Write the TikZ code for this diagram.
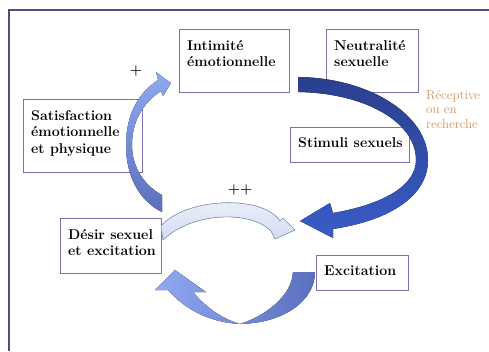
\documentclass[tikz,border=0pt]{standalone}
\usepackage{tikz}
\usetikzlibrary{positioning}
\definecolor{cycleFrame}{HTML}{4E4E76}
\definecolor{cycleBox}{HTML}{7D70B0}
\definecolor{cycleNavy}{HTML}{2A3F8F}
\definecolor{cycleBlue}{HTML}{4A6AD0}
\definecolor{cycleRoyal}{HTML}{3A5BC8}
\definecolor{cycleSky}{HTML}{90A9F0}
\definecolor{cycleSlate}{HTML}{5B6FBE}
\definecolor{cycleDeep}{HTML}{4A5FB5}
\definecolor{cyclePale}{HTML}{D3DDF2}
\definecolor{cycleEdge}{HTML}{8897B8}
\definecolor{cycleOrange}{HTML}{D4935F}
\tikzset{
  stagebox/.style={
    rectangle,
    draw=cycleBox,
    fill=white,
    line width=0.8pt,
    anchor=north west,
    inner sep=0pt
  },
  stagetext/.style={
    font=\fontsize{14.2}{16.5}\selectfont\bfseries,
    align=left,
    inner sep=0pt
  },
  signtext/.style={
    font=\fontsize{14}{16}\selectfont\bfseries,
    inner sep=0pt
  },
  notetext/.style={
    font=\fontsize{13}{14.5}\selectfont,
    text=cycleOrange,
    align=left,
    inner sep=0pt,
    anchor=north west
  },
  frame/.style={
    draw=cycleFrame,
    line width=1.5pt
  }
}

\begin{document}
\begin{tikzpicture}[x=1pt,y=-1pt]
  \useasboundingbox (0,0) rectangle (489,351);
  \draw[frame] (9,351) -- (9,10) -- (489,10);
  % boxes
  \node[stagebox,minimum width=110pt,minimum height=63pt] (intimite) at (179,29) {};
  \node[stagebox,minimum width=92pt,minimum height=63pt] (neutralite) at (326,29) {};
  \node[stagebox,minimum width=119pt,minimum height=73pt] (satisfaction) at (23,99) {};
  \node[stagebox,minimum width=119pt,minimum height=35pt] (stimuli) at (290,127) {};
  \node[stagebox,minimum width=101pt,minimum height=55pt] (desir) at (60,218) {};
  \node[stagebox,minimum width=92pt,minimum height=35pt] (excitation) at (316,255) {};
  \node[stagetext,below right=11pt and 8pt of intimite.north west] (intimiteT) {Intimité\\émotionnelle};
  \node[stagetext,below right=11pt and 8pt of neutralite.north west] (neutraliteT) {Neutralité\\sexuelle};
  \node[stagetext,below right=11pt and 8pt of satisfaction.north west] (satisfactionT) {Satisfaction\\émotionnelle\\et physique};
  \node[stagetext,below right=10pt and 8pt of stimuli.north west] (stimuliT) {Stimuli sexuels};
  \node[stagetext,below right=11pt and 8pt of desir.north west] (desirT) {Désir sexuel\\et excitation};
  \node[stagetext,below right=11pt and 8pt of excitation.north west] (excitationT) {Excitation};
  \node[notetext] (receptive) at (426,90) {Réceptive\\ou en\\recherche};
  \node[signtext] (plus) at (136,71) {+};
  \node[signtext] (plusplus) at (240,190) {++};
  % big arrow: neutralite -> desir
  \fill[top color=cycleNavy,middle color=cycleBlue,bottom color=cycleRoyal]
    (298,77) .. controls (370,78) and (428,115) .. (428,160)
    .. controls (428,195) and (392,220) .. (333,229)
    -- (333,238) -- (300,221) -- (330,203) -- (333,213)
    .. controls (385,204) and (416,185) .. (416,160)
    .. controls (416,122) and (365,93) .. (298,92) -- cycle;
  % left arrow: satisfaction -> intimite
  \fill[top color=cycleSky,bottom color=cycleSlate]
    (162,212) .. controls (138,200) and (126,175) .. (126,145)
    .. controls (126,115) and (138,93) .. (158,80)
    -- (156,72) -- (171,83) -- (163,96) -- (161,91)
    .. controls (142,104) and (132,122) .. (132,145)
    .. controls (132,168) and (145,186) .. (162,195) -- cycle;
  % ++ arrow
  \filldraw[draw=cycleEdge,line width=0.6pt,top color=cyclePale!40!white,bottom color=cyclePale]
    (161,226) .. controls (185,198) and (262,194) .. (280,221)
    -- (283,218) -- (295,230) -- (275,239) -- (271,231)
    .. controls (250,210) and (192,212) .. (163,240) -- cycle;
  % bottom arrow: excitation -> desir
  \fill[left color=cycleSky,middle color=cycleDeep,right color=cycleSlate]
    (315,272) .. controls (315,300) and (285,323) .. (240,324)
    .. controls (205,322) and (182,306) .. (168,290)
    -- (155,290) -- (175,270) -- (206,292) -- (193,292)
    .. controls (205,306) and (220,318) .. (240,324)
    .. controls (265,316) and (292,296) .. (293,272) -- cycle;
\end{tikzpicture}
\end{document}
